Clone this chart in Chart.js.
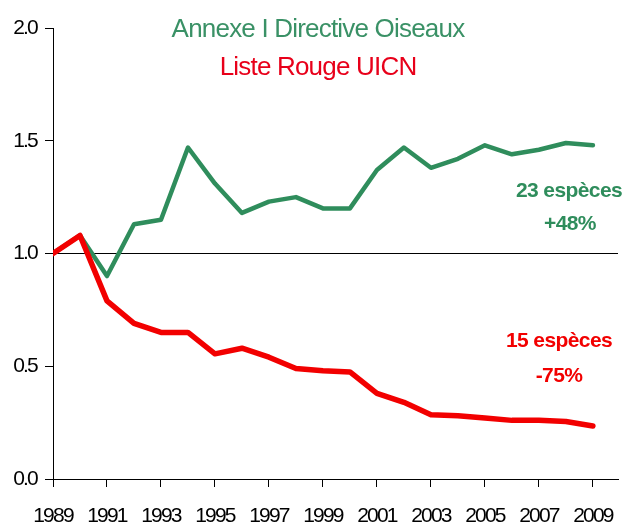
<!DOCTYPE html>
<html>
<head>
<meta charset="utf-8">
<script src="https://cdn.jsdelivr.net/npm/chart.js@4"></script>
<style>
html,body{margin:0;padding:0;background:#fff;}
#wrap{width:627px;height:525px;position:relative;}
</style>
</head>
<body>
<div id="wrap"><canvas id="c" width="627" height="525"></canvas></div>
<script>
const years = [1989,1990,1991,1992,1993,1994,1995,1996,1997,1998,1999,2000,2001,2002,2003,2004,2005,2006,2007,2008,2009];
const annexeValues = [1.00,1.08,0.90,1.13,1.15,1.47,1.31,1.18,1.23,1.25,1.20,1.20,1.37,1.47,1.38,1.42,1.48,1.44,1.46,1.49,1.48];
const rougeValues = [1.00,1.08,0.79,0.69,0.65,0.65,0.555,0.58,0.54,0.49,0.48,0.475,0.38,0.34,0.285,0.28,0.27,0.26,0.26,0.255,0.235];
const xTickYears = [1989,1991,1993,1995,1997,1999,2001,2003,2005,2007,2009];
const yTickValues = [0,0.5,1.0,1.5,2.0];
const titleLines = ["Annexe I Directive Oiseaux","Liste Rouge UICN"];
const annexeNotes = ["23 espèces","+48%"];
const rougeNotes = ["15 espèces","-75%"];

const GREEN = '#2f8d5c';
const RED = '#f20000';
const TICKFONT = '"Liberation Sans", Arial, sans-serif';

const spacingPlugin = {
  id: 'tickSpacing',
  beforeDraw(chart) { chart.ctx.letterSpacing = '-1.8px'; },
  beforeDatasetsDraw(chart) { chart.ctx.letterSpacing = '0px'; }
};

const textPlugin = {
  id: 'texts',
  afterDatasetsDraw(chart) {
    const ctx = chart.ctx;
    ctx.save();
    ctx.textAlign = 'center';
    ctx.textBaseline = 'alphabetic';
    ctx.letterSpacing = '-0.8px';
    ctx.font = '26px "Liberation Sans", Arial, sans-serif';
    ctx.fillStyle = '#3a9166';
    ctx.fillText(titleLines[0], 318, 37);
    ctx.fillStyle = '#e8001a';
    ctx.fillText(titleLines[1], 318, 75);
    ctx.letterSpacing = '-0.6px';
    ctx.font = 'bold 21px "Liberation Sans", Arial, sans-serif';
    ctx.fillStyle = GREEN;
    ctx.fillText(annexeNotes[0], 569, 197);
    ctx.fillText(annexeNotes[1], 570, 230);
    ctx.fillStyle = RED;
    ctx.fillText(rougeNotes[0], 559, 347);
    ctx.fillText(rougeNotes[1], 559, 382);
    ctx.restore();
  }
};

new Chart(document.getElementById('c'), {
  type: 'line',
  data: {
    datasets: [
      { label: 'Liste Rouge UICN', data: years.map((y,i)=>({x:y,y:rougeValues[i]})),
        borderColor: RED, borderWidth: 5.5, pointRadius: 0, tension: 0, borderJoinStyle: 'round', borderCapStyle: 'round' },
      { label: 'Annexe I Directive Oiseaux', data: years.map((y,i)=>({x:y,y:annexeValues[i]})),
        borderColor: GREEN, borderWidth: 4.5, pointRadius: 0, tension: 0, borderJoinStyle: 'round', borderCapStyle: 'round' }
    ]
  },
  options: {
    responsive: false,
    animation: false,
    devicePixelRatio: 1,
    layout: { padding: { top: 28, right: 9, left: 0, bottom: 0 } },
    plugins: { legend: { display: false }, tooltip: { enabled: false } },
    scales: {
      x: {
        type: 'linear', min: 1989, max: 2009.93,
        afterBuildTicks(scale) { scale.ticks = xTickYears.map(v => ({ value: v })); },
        afterFit(scale) { scale.height = 46; scale.paddingLeft = 0; scale.paddingRight = 0; },
        ticks: { autoSkip: false, maxRotation: 0, color: '#000', padding: 17,
          font: { family: TICKFONT, size: 21 },
          callback: v => String(v) },
        grid: { drawOnChartArea: false, drawTicks: true, tickLength: 8, tickColor: '#000', tickWidth: 1 },
        border: { display: true, color: '#000', width: 1 }
      },
      y: {
        min: 0, max: 2,
        afterBuildTicks(scale) { scale.ticks = yTickValues.map(v => ({ value: v })); },
        afterFit(scale) { scale.width = 53; scale.paddingTop = 0; scale.paddingBottom = 0; },
        ticks: { color: '#000', padding: 8,
          font: { family: TICKFONT, size: 21 },
          callback: v => Number(v).toFixed(1) },
        grid: { drawTicks: true, tickLength: 8, tickColor: '#000', tickWidth: 1,
          color: c => (c.tick && c.tick.value === 1) ? '#000' : 'rgba(0,0,0,0)', lineWidth: 1 },
        border: { display: true, color: '#000', width: 1 }
      }
    }
  },
  plugins: [spacingPlugin, textPlugin]
});
</script>
</body>
</html>
